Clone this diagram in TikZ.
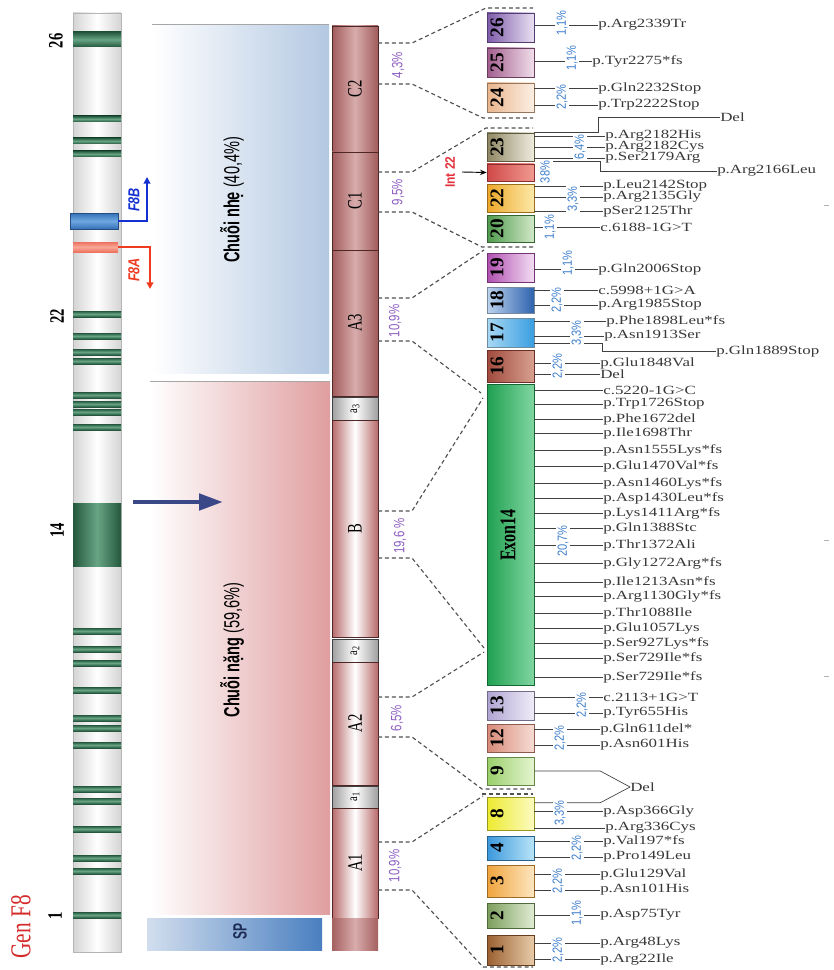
\documentclass[tikz,border=0pt]{standalone}
\usepackage{fontspec}
\setmainfont{Liberation Serif}
\newfontfamily\sansf{Liberation Sans}
\usetikzlibrary{arrows.meta}
\definecolor{lcb}{HTML}{B3C8E2}
\definecolor{hcp}{HTML}{E09EA0}
\definecolor{spl}{HTML}{D2DEEE}
\definecolor{spd}{HTML}{4A7FC0}
\definecolor{spt}{HTML}{1E2C55}
\definecolor{gbar}{HTML}{D4D4D4}
\definecolor{gbarb}{HTML}{B5B5B5}
\definecolor{bandg}{HTML}{24573D}
\definecolor{bandl}{HTML}{68A585}
\definecolor{blueb}{HTML}{3470B8}
\definecolor{bluel}{HTML}{6FA8E0}
\definecolor{redb}{HTML}{EE7260}
\definecolor{redl}{HTML}{F8A898}
\definecolor{fbc}{HTML}{1530D0}
\definecolor{fac}{HTML}{F03A20}
\definecolor{navyc}{HTML}{3A4888}
\definecolor{domC}{HTML}{A25C5C}
\definecolor{domCl}{HTML}{D8ACAC}
\definecolor{domA}{HTML}{B86A6A}
\definecolor{domdk}{HTML}{4E2626}
\definecolor{pblue}{HTML}{3F7FCC}
\definecolor{ppurp}{HTML}{8E5EC2}
\definecolor{lineg}{HTML}{404040}
\definecolor{dashg}{HTML}{505050}
\definecolor{genred}{HTML}{D42A2A}
\definecolor{intred}{HTML}{E2323C}
% exon colours
\definecolor{c26a}{HTML}{7E5BAA}\definecolor{c26b}{HTML}{E9E0F2}
\definecolor{c25a}{HTML}{A25E8E}\definecolor{c25b}{HTML}{F1DEEA}
\definecolor{c24a}{HTML}{E9B58C}\definecolor{c24b}{HTML}{FCEFE4}
\definecolor{c23a}{HTML}{8F8763}\definecolor{c23b}{HTML}{EFECDF}
\definecolor{ciia}{HTML}{D04848}\definecolor{ciib}{HTML}{F09A90}
\definecolor{c22a}{HTML}{EDA82A}\definecolor{c22b}{HTML}{FCE9A8}
\definecolor{c20a}{HTML}{4E9A4C}\definecolor{c20b}{HTML}{D2E8C8}
\definecolor{c19a}{HTML}{B04FB0}\definecolor{c19b}{HTML}{F3DDF3}
\definecolor{c18a}{HTML}{BCD3EE}\definecolor{c18b}{HTML}{2F63AE}
\definecolor{c17a}{HTML}{A8D8F4}\definecolor{c17b}{HTML}{3A9EE0}
\definecolor{c16a}{HTML}{A04A3C}\definecolor{c16b}{HTML}{D8A090}
\definecolor{c14a}{HTML}{20A050}\definecolor{c14b}{HTML}{80D6A2}
\definecolor{c13a}{HTML}{AFA4D2}\definecolor{c13b}{HTML}{F0ECF8}
\definecolor{c12a}{HTML}{D88A78}\definecolor{c12b}{HTML}{F6DCD4}
\definecolor{c9a}{HTML}{9ACF6A}\definecolor{c9b}{HTML}{E4F4D0}
\definecolor{c8a}{HTML}{EDEA30}\definecolor{c8b}{HTML}{FCFBC0}
\definecolor{c4a}{HTML}{3B98DC}\definecolor{c4b}{HTML}{B9E4F8}
\definecolor{c3a}{HTML}{F0A43C}\definecolor{c3b}{HTML}{FDE6C0}
\definecolor{c2a}{HTML}{7C9E5C}\definecolor{c2b}{HTML}{E0ECD4}
\definecolor{c1a}{HTML}{9A6030}\definecolor{c1b}{HTML}{E8CCAA}
\newcommand{\hs}[1]{\scalebox{1.35}[1]{#1}}
\newcommand{\vs}[2]{\scalebox{1}[#1]{#2}}
\tikzset{
  conn/.style={draw=lineg, line width=0.5pt},
  dline/.style={draw=dashg, line width=0.85pt, dash pattern=on 3pt off 2.2pt},
  mut/.style={anchor=west, inner sep=0pt, font=\fontsize{9.4}{11}\selectfont, text=black!78},
  bpct/.style={rotate=90, fill=white, inner sep=0.8pt, text=pblue, font=\sansf\fontsize{8.3}{9}\selectfont},
  ppct/.style={rotate=90, fill=white, inner sep=0.8pt, text=ppurp, font=\sansf\fontsize{8.6}{9}\selectfont},
  exbox/.style={minimum width=35.25pt, inner sep=0pt, line width=0.4pt},
  exlbl/.style={rotate=90, inner sep=0pt, font=\bfseries\fontsize{14.5}{15}\selectfont},
  domlbl/.style={rotate=90, inner sep=0pt, font=\fontsize{11}{12}\selectfont},
  dombox/.style={minimum width=34.5pt, inner sep=0pt, line width=0.55pt, draw=domdk},
  shC/.style={left color=domC, right color=domC, middle color=domCl},
  shA/.style={left color=domA, right color=domA, middle color=white},
  shG/.style={left color=gray!75, right color=gray!75, middle color=white, draw=black!75},
  shP/.style={left color=domA!90!black, right color=domA!90!black, middle color=domCl},
  gnum/.style={rotate=90, inner sep=0pt, font=\bfseries\fontsize{11}{12}\selectfont},
}
\newcommand{\exon}[5]{%
  \node[exbox, left color=#4, right color=#5, draw=#4!65!black, minimum height={(#3-#2)*0.75pt}] (#1) at (510.5,{(#2+#3)/2}) {};}
\newcommand{\dom}[5]{%
  \node[dombox, #4, minimum height={(#3-#2)*0.75pt}] (#1) at (355,{(#2+#3)/2}) {};
  \node[domlbl] (#1t) at (355,{(#2+#3)/2}) {#5};}
\begin{document}
\begin{tikzpicture}[x=0.75pt, y=-0.75pt]
\useasboundingbox (0,0) rectangle (833,970);
% chain backgrounds
\fill[left color=white, right color=lcb] (152,25) rectangle (329,373);
\draw[gray!70, line width=0.6pt] (152,24.5) -- (329,24.5);
\fill[left color=white, right color=hcp] (150,382) rectangle (330,914);
\draw[gray!70, line width=0.6pt] (150,381.5) -- (330,381.5);
\fill[left color=spl, right color=spd] (147,918) rectangle (322,950);
\node[rotate=90, inner sep=0pt, font=\sansf\fontsize{10.9}{12}\selectfont] (lct) at (232,200) {\vs{1.5}{\textbf{Chuỗi nhẹ} (40,4\%)}};
\node[rotate=90, inner sep=0pt, font=\sansf\fontsize{10.9}{12}\selectfont] (hct) at (232,650) {\vs{1.5}{\textbf{Chuỗi nặng} (59,6\%)}};
\node[rotate=90, inner sep=0pt, font=\sansf\bfseries\fontsize{9}{10}\selectfont, text=spt] (spt) at (240,931) {\vs{1.6}{SP}};
% gene bar
\draw[draw=gbarb, line width=0.5pt, left color=gbar, right color=gbar, middle color=white] (73,13) rectangle (121,952);
\foreach \yy in {119,141,154,314,336,352,361,395,404,412,427,631,649,663,690,718,728,745,789,801,829,858,871,915}
  \fill[top color=bandg, bottom color=bandg, middle color=bandl] (73,{\yy-3}) rectangle (121,{\yy+3});
\fill[top color=bandg, bottom color=bandg, middle color=bandl] (73,32) rectangle (121,47);
\fill[left color=bandg, right color=bandg, middle color=bandl] (73,503) rectangle (121,566);
\draw[draw=blueb!70!black, line width=0.4pt, top color=blueb, bottom color=blueb, middle color=bluel] (70,213) rectangle (118,229);
\fill[top color=redb, bottom color=redb, middle color=redl] (73,242) rectangle (118,252);
\node[gnum] (g26) at (56,41) {\vs{1.4}{26}};
\node[gnum] (g22) at (57,316) {\vs{1.4}{22}};
\node[gnum] (g14) at (57,530) {\vs{1.4}{14}};
\node[gnum] (g1) at (55,916) {\vs{1.4}{1}};
\node[rotate=90, inner sep=0pt, font=\fontsize{16}{17}\selectfont, text=genred] (gen) at (21,927) {\vs{1.35}{Gen F8}};
% F8A / F8B
\coordinate (fbs) at (118,221); \coordinate (fbe) at (147,177);
\coordinate (fas) at (118,247); \coordinate (fae) at (150,289);
\draw[fbc, line width=1.5pt, -{Triangle[length=5pt,width=5pt]}] (fbs) -| (fbe);
\draw[fac, line width=1.5pt, -{Triangle[length=5pt,width=5pt]}] (fas) -| (fae);
\node[rotate=90, inner sep=0pt, text=fbc, font=\sansf\bfseries\itshape\fontsize{9.5}{10}\selectfont] (fbt) at (134,200) {\vs{1.25}{F8B}};
\node[rotate=90, inner sep=0pt, text=fac, font=\sansf\bfseries\itshape\fontsize{9.5}{10}\selectfont] (fat) at (134,270) {\vs{1.25}{F8A}};
% big arrow
\coordinate (ba1) at (133,502); \coordinate (ba2) at (223,502);
\draw[navyc, line width=3.6pt, -{Triangle[length=18pt,width=12pt]}] (ba1) -- (ba2);
% protein domains
\dom{C2}{26}{152}{shC}{\vs{1.4}{C2}}
\dom{C1}{152}{250}{shC}{\vs{1.4}{C1}}
\dom{A3}{250}{396}{shC}{\vs{1.4}{A3}}
\dom{a3}{397}{420}{shG}{{\fontsize{8}{9}\selectfont\vs{1.3}{a\textsubscript{3}}}}
\dom{B}{420}{637}{shA}{\vs{1.4}{B}}
\dom{a2}{639}{662}{shG}{{\fontsize{8}{9}\selectfont\vs{1.3}{a\textsubscript{2}}}}
\dom{A2}{662}{785}{shA}{\vs{1.4}{A2}}
\dom{a1}{786}{808}{shG}{{\fontsize{8}{9}\selectfont\vs{1.3}{a\textsubscript{1}}}}
\dom{A1}{808}{918}{shA}{\vs{1.4}{A1}}
\node[dombox, shP, draw=none, minimum height=24pt] (spb) at (355,934) {};
% dashed zoom lines
\coordinate (q1) at (378,43);  \coordinate (q2) at (378,84);
\coordinate (q3) at (378,172); \coordinate (q4) at (378,212);
\coordinate (q5) at (378,298); \coordinate (q6) at (378,341);
\coordinate (q7) at (378,511); \coordinate (q8) at (378,558);
\coordinate (q9) at (378,697); \coordinate (q10) at (378,737);
\coordinate (q11) at (378,842); \coordinate (q12) at (378,890);
\draw[dline] (q1) -- (412,43) -- (486,8) -- (533,8);
\draw[dline] (q2) -- (412,84) -- (483,118) -- (533,118);
\draw[dline] (q3) -- (412,172) -- (486,128) -- (533,128);
\draw[dline] (q4) -- (412,212) -- (482,247) -- (533,247);
\draw[dline] (q5) -- (412,298) -- (484,250);
\draw[dline] (q6) -- (412,341) -- (481,393);
\draw[dline] (q7) -- (412,511) -- (483,398);
\draw[dline] (q8) -- (412,558) -- (484,648);
\draw[dline] (q9) -- (412,697) -- (484,652);
\draw[dline] (q10) -- (412,737) -- (482,789) -- (533,789);
\draw[dline] (482,794) -- (533,794);
\draw[dline] (q11) -- (412,842) -- (483,796);
\draw[dline] (q12) -- (412,890) -- (483,967) -- (533,967);
% exons
\exon{e26}{13}{42}{c26a}{c26b}
\exon{e25}{48}{77}{c25a}{c25b}
\exon{e24}{83}{112}{c24a}{c24b}
\exon{e23}{133}{161}{c23a}{c23b}
\node[exbox, left color=ciia, right color=ciib, draw=ciia!65!black, minimum height=12.75pt] (i22) at (510.5,172.5) {};
\exon{e22}{184}{212}{c22a}{c22b}
\exon{e20}{215}{242}{c20a}{c20b}
\exon{e19}{253}{282}{c19a}{c19b}
\exon{e18}{287}{313}{c18a}{c18b}
\exon{e17}{318}{347}{c17a}{c17b}
\exon{e16}{350}{382}{c16a}{c16b}
\node[exbox, left color=c14a, right color=c14b, draw=c14a!65!black, minimum height=225.75pt] (e14) at (510.5,534.5) {};
\exon{e13}{691}{720}{c13a}{c13b}
\exon{e12}{724}{752}{c12a}{c12b}
\exon{e9}{757}{785}{c9a}{c9b}
\exon{e8}{797}{830}{c8a}{c8b}
\exon{e4}{836}{860}{c4a}{c4b}
\exon{e3}{865}{897}{c3a}{c3b}
\exon{e2}{903}{928}{c2a}{c2b}
\exon{e1}{935}{965}{c1a}{c1b}
% exon numbers (rotated)
\node[exlbl] (e26t) at (497,27.5) {26};
\node[exlbl] (e25t) at (497,62.5) {25};
\node[exlbl] (e24t) at (497,97.5) {24};
\node[exlbl] (e23t) at (497,147) {23};
\node[exlbl] (e22t) at (497,198) {22};
\node[exlbl] (e20t) at (497,228.5) {20};
\node[exlbl] (e19t) at (497,267.5) {19};
\node[exlbl] (e18t) at (497,300) {18};
\node[exlbl] (e17t) at (497,332.5) {17};
\node[exlbl] (e16t) at (497,366) {16};
\node[rotate=90, inner sep=0pt, font=\bfseries\fontsize{12}{13}\selectfont] (e14t) at (508,535) {\vs{1.4}{Exon14}};
\node[exlbl] (e13t) at (497,705.5) {13};
\node[exlbl] (e12t) at (497,738) {12};
\node[exlbl] (e9t) at (497,771) {9};
\node[exlbl] (e8t) at (497,813.5) {8};
\node[exlbl] (e4t) at (497,848) {4};
\node[exlbl] (e3t) at (497,881) {3};
\node[exlbl] (e2t) at (497,915.5) {2};
\node[exlbl] (e1t) at (497,950) {1};
% Int 22
\node[rotate=90, inner sep=0pt, text=intred, font=\sansf\bfseries\fontsize{9}{10}\selectfont] (intl) at (450,172) {\vs{1.15}{Int 22}};
\coordinate (ia) at (462,172);
\draw[line width=0.7pt, -{Stealth[length=5pt,width=4pt]}] (ia) -- (i22.west);
% mutation labels
\node[mut] (m26) at (598,25) {\hs{p.Arg2339Tr}};
\node[mut] (m25) at (592,61) {\hs{p.Tyr2275*fs}};
\node[mut] (m24a) at (598,88) {\hs{p.Gln2232Stop}};
\node[mut] (m24b) at (598,105) {\hs{p.Trp2222Stop}};
\node[mut] (d23) at (720,117) {\hs{Del}};
\node[mut] (m23a) at (605,136) {\hs{p.Arg2182His}};
\node[mut] (m23b) at (605,147) {\hs{p.Arg2182Cys}};
\node[mut] (m23c) at (605,158) {\hs{p.Ser2179Arg}};
\node[mut] (m2166) at (717,171) {\hs{p.Arg2166Leu}};
\node[mut] (m22a) at (603,186) {\hs{p.Leu2142Stop}};
\node[mut] (m22b) at (603,197) {\hs{p.Arg2135Gly}};
\node[mut] (m22c) at (603,211) {\hs{pSer2125Thr}};
\node[mut] (m20) at (600,227) {\hs{c.6188-1G>T}};
\node[mut] (m19) at (598,269) {\hs{p.Gln2006Stop}};
\node[mut] (m18a) at (598,290) {\hs{c.5998+1G>A}};
\node[mut] (m18b) at (598,305) {\hs{p.Arg1985Stop}};
\node[mut] (m17a) at (606,321) {\hs{p.Phe1898Leu*fs}};
\node[mut] (m17b) at (604,336) {\hs{p.Asn1913Ser}};
\node[mut] (m1889) at (716,351) {\hs{p.Gln1889Stop}};
\node[mut] (m16a) at (600,363) {\hs{p.Glu1848Val}};
\node[mut] (m16b) at (600,374) {\hs{Del}};
\node[mut] (m13a) at (603,697) {\hs{c.2113+1G>T}};
\node[mut] (m13b) at (603,713) {\hs{p.Tyr655His}};
\node[mut] (m12a) at (600,729) {\hs{p.Gln611del*}};
\node[mut] (m12b) at (600,745) {\hs{p.Asn601His}};
\node[mut] (d9) at (630,787) {\hs{Del}};
\node[mut] (m8a) at (603,811) {\hs{p.Asp366Gly}};
\node[mut] (m8b) at (605,828) {\hs{p.Arg336Cys}};
\node[mut] (m4a) at (603,841) {\hs{p.Val197*fs}};
\node[mut] (m4b) at (603,857) {\hs{p.Pro149Leu}};
\node[mut] (m3a) at (600,874) {\hs{p.Glu129Val}};
\node[mut] (m3b) at (600,890) {\hs{p.Asn101His}};
\node[mut] (m2) at (600,915) {\hs{p.Asp75Tyr}};
\node[mut] (m1a) at (600,943) {\hs{p.Arg48Lys}};
\node[mut] (m1b) at (600,959) {\hs{p.Arg22Ile}};
% exon 14 labels and connectors
\foreach \yy/\tx [count=\i] in {390/{c.5220-1G>C}, 404/{p.Trp1726Stop}, 419/{p.Phe1672del}, 433/{p.Ile1698Thr}, 450/{p.Asn1555Lys*fs}, 466/{p.Glu1470Val*fs}, 483/{p.Asn1460Lys*fs}, 498/{p.Asp1430Leu*fs}, 513/{p.Lys1411Arg*fs}, 528/{p.Gln1388Stc}, 545/{p.Thr1372Ali}, 563/{p.Gly1272Arg*fs}, 582/{p.Ile1213Asn*fs}, 596/{p.Arg1130Gly*fs}, 613/{p.Thr1088Ile}, 628/{p.Glu1057Lys}, 643/{p.Ser927Lys*fs}, 658/{p.Ser729Ile*fs}, 677/{p.Ser729Ile*fs}}
{
  \node[mut] (x\i) at (603,\yy) {\hs{\tx}};
  \draw[conn] (e14.east |- x\i.west) -- (x\i.west);
}
% connectors
\foreach \e/\m in {e26/m26, e25/m25, e24/m24a, e24/m24b, e23/m23a, e23/m23b, e23/m23c, e22/m22a, e22/m22b, e22/m22c, e20/m20, e19/m19, e18/m18a, e18/m18b, e17/m17a, e17/m17b, e16/m16a, e16/m16b, e13/m13a, e13/m13b, e12/m12a, e12/m12b, e8/m8a, e8/m8b, e4/m4a, e4/m4b, e3/m3a, e3/m3b, e2/m2, e1/m1a, e1/m1b}
  \draw[conn] (\e.east |- \m.west) -- (\m.west);
\draw[conn] (e23.north east) -- ++(64,0) |- (d23.west);
\coordinate (l2166) at (553,161);
\draw[conn] (l2166) -- (600,161) |- (m2166.west);
\draw[conn] ([yshift=3pt]e17.south east) -- ++(68,0) |- (m1889.west);
\draw[conn] (e9.east) -- ++(66,0) -- (d9.west);
\draw[conn] ([yshift=-4.5pt]e8.north east) -- ++(66,0) -- (d9.west);
% exon percentages
\node[bpct] (p26) at (562,23) {\vs{1.2}{1,1\%}};
\node[bpct] (p25) at (572,58) {\vs{1.2}{1,1\%}};
\node[bpct] (p24) at (562,97) {\vs{1.2}{2,2\%}};
\node[bpct] (p23) at (580,147) {\vs{1.2}{6,4\%}};
\node[bpct] (pii) at (545,172) {\vs{1.2}{38\%}};
\node[bpct] (p22) at (573,199) {\vs{1.2}{3,3\%}};
\node[bpct] (p20) at (550,227) {\vs{1.2}{1,1\%}};
\node[bpct] (p19) at (568,263) {\vs{1.2}{1,1\%}};
\node[bpct] (p18) at (557,300) {\vs{1.2}{2,2\%}};
\node[bpct] (p17) at (577,333) {\vs{1.2}{3,3\%}};
\node[bpct] (p16) at (558,366) {\vs{1.2}{2,2\%}};
\node[bpct] (p14) at (563,541) {\vs{1.2}{20,7\%}};
\node[bpct] (p13) at (582,705) {\vs{1.2}{2,2\%}};
\node[bpct] (p12) at (560,738) {\vs{1.2}{2,2\%}};
\node[bpct] (p8) at (560,813) {\vs{1.2}{3,3\%}};
\node[bpct] (p4) at (577,848) {\vs{1.2}{2,2\%}};
\node[bpct] (p3) at (558,881) {\vs{1.2}{2,2\%}};
\node[bpct] (p2) at (577,913) {\vs{1.2}{1,1\%}};
\node[bpct] (p1) at (558,950) {\vs{1.2}{2,2\%}};
% domain percentages
\node[ppct] (dp1) at (398,65) {\vs{1.3}{4,3\%}};
\node[ppct] (dp2) at (398,192) {\vs{1.3}{9,5\%}};
\node[ppct] (dp3) at (395,321) {\vs{1.3}{10,9\%}};
\node[ppct] (dp4) at (400,536) {\vs{1.3}{19,6 \%}};
\node[ppct] (dp5) at (397,718) {\vs{1.3}{6,5\%}};
\node[ppct] (dp6) at (395,866) {\vs{1.3}{10,9\%}};
% small marks at right edge
\draw[gray!60, line width=0.6pt] (824,205) -- (829,205);
\draw[gray!60, line width=0.6pt] (824,540) -- (829,540);
\draw[gray!60, line width=0.6pt] (824,676) -- (829,676);
\end{tikzpicture}
\end{document}
